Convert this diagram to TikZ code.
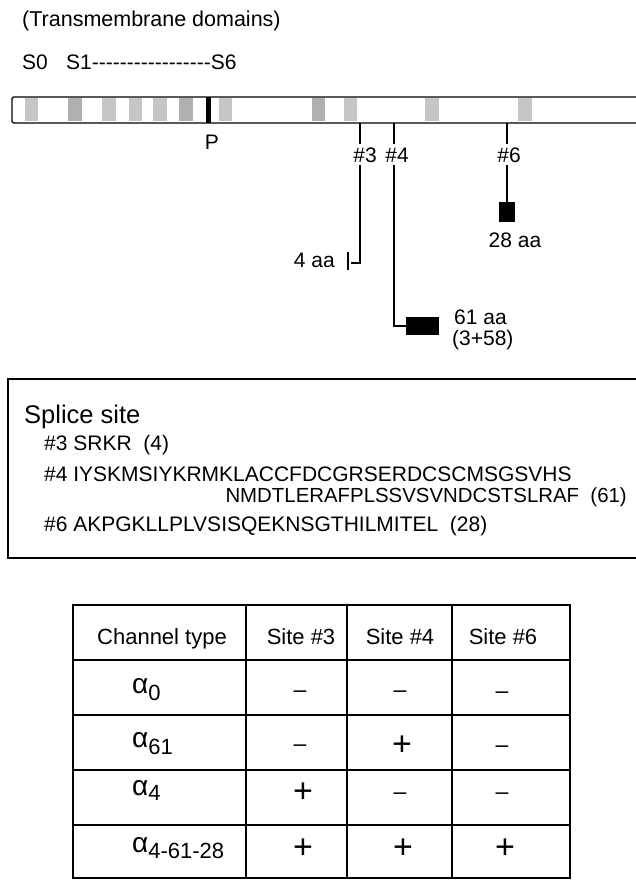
\documentclass[tikz,border=0pt]{standalone}
\usepackage{fontspec}
\setmainfont{Liberation Sans}
\newcommand\alsub[2][-7pt]{{\fontsize{28}{30}\selectfont α}\raisebox{#1}{#2}}
\begin{document}
\begin{tikzpicture}[x=1pt,y=-1pt,
  txt/.style={inner sep=0pt, font=\fontsize{21}{25}\selectfont},
  lab/.style={txt, anchor=base},
  seq/.style={txt, anchor=base west},
  tab/.style={inner sep=0pt, anchor=base, font=\fontsize{22}{26}\selectfont},
  stripe/.style={fill=gray!45, draw=none},
  dstripe/.style={fill=gray!62, draw=none},
  blk/.style={fill=black, draw=none, inner sep=0pt},
  conn/.style={line width=1.2pt},
  gridline/.style={line width=1.6pt},
  pl/.style={inner sep=0pt, anchor=base, font=\fontsize{34}{36}\selectfont},
  mi/.style={inner sep=0pt, anchor=base, font=\fontsize{23}{25}\selectfont},
  ]
\useasboundingbox (0,0) rectangle (635,880);

% ---------- header ----------
\node[seq, font=\fontsize{21.5}{25}\selectfont] (tm) at (22,27) {(Transmembrane domains)};
\node[seq] (s0) at (22,70) {S0};
\node[seq] (s16) at (66,70) {S1-{}-{}-{}-{}-{}-{}-{}-{}-{}-{}-{}-{}-{}-{}-{}-{}-{}S6};

% ---------- bar ----------
\foreach \a/\b in {25/38,102/116,129/142,153/167,219/232,344/357,425/439,518/532}
  \fill[stripe] (\a,98) rectangle (\b,121);
\foreach \a/\b in {68/82,179/193,312/325}
  \fill[dstripe] (\a,98) rectangle (\b,121);
\fill[black] (206,97) rectangle (210.5,123);
\draw[line width=1.2pt, rounded corners=1.5pt] (660,97) -- (12,97) -- (12,123) -- (660,123);
\node[lab] (P) at (212,149) {P};

% ---------- sites ----------
\coordinate (b3) at (360,123);
\coordinate (b4) at (394,123);
\coordinate (b6) at (507,123);
\node[lab] (n3) at (365,162) {\#3};
\node[lab] (n4) at (397,162) {\#4};
\node[lab] (n6) at (509,162) {\#6};

% site 3
\coordinate (h3) at (351,263);
\coordinate (t3a) at (348,252);
\coordinate (t3b) at (348,270);
\draw[conn] (b3) -- ([yshift=3pt]n3.north -| b3);
\draw[conn] ([yshift=-3pt]n3.south -| b3) -- (b3 |- h3) -- (h3);
\draw[conn] (t3a) -- (t3b);
\node[lab, anchor=base east] (aa4) at (335,267) {4 aa};

% site 4
\node[blk, minimum width=33pt, minimum height=18pt, anchor=west] (r4) at (406,326) {};
\draw[conn] (b4) -- ([yshift=3pt]n4.north -| b4);
\draw[conn] ([yshift=-3pt]n4.south -| b4) -- (b4 |- r4.west) -- (r4.west);
\node[seq] (aa61) at (454,324) {61 aa};
\node[seq] (aa61b) at (452,345) {(3+58)};

% site 6
\node[blk, minimum width=16pt, minimum height=20pt] (r6) at (507,212) {};
\draw[conn] (b6) -- ([yshift=3pt]n6.north -| b6);
\draw[conn] ([yshift=-3pt]n6.south -| b6) -- (r6.north);
\node[lab] (aa28) at (515,247) {28 aa};

% ---------- splice box ----------
\draw[line width=1.5pt] (660,379) -- (8,379) -- (8,558) -- (660,558);
\node[seq, font=\fontsize{25.5}{30}\selectfont] (st) at (24,423) {Splice site};
\node[seq] (q3) at (44,450) {\#3 SRKR\ \ (4)};
\node[seq] (q4) at (44,481) {\#4 IYSKMSIYKRMKLACCFDCGRSERDCSCMSGSVHS};
\node[seq, anchor=base east, font=\fontsize{20.4}{24}\selectfont] (q4b) at (627,502.5) {NMDTLERAFPLSSVSVNDCSTSLRAF\ \ (61)};
\node[seq] (q6) at (44,531) {\#6 AKPGKLLPLVSISQEKNSGTHILMITEL\ \ (28)};

% ---------- table ----------
\draw[gridline] (73,605) rectangle (570,878);
\foreach \y in {660,715,770,825} \draw[gridline] (73,\y) -- (570,\y);
\foreach \x in {246,347,452} \draw[gridline] (\x,605) -- (\x,878);

\node[tab] (hc) at (162,644) {Channel type};
\node[tab] (h3) at (301,644) {Site \#3};
\node[tab] (h4) at (400,644) {Site \#4};
\node[tab] (h6) at (503,644) {Site \#6};

\node[tab, anchor=base west] (r0) at (132,693) {\alsub{0}};
\node[tab, anchor=base west] (r61) at (132,747) {\alsub{61}};
\node[tab, anchor=base west] (r4l) at (132,795) {\alsub[-5pt]{4}};
\node[tab, anchor=base west] (r46128) at (132,852) {\alsub[-6pt]{4-61-28}};

% minus signs
\node[mi] (m03) at (300,697) {–};
\node[mi] (m04) at (400,697) {–};
\node[mi] (m06) at (502,698) {–};
\node[mi] (m13) at (300,751) {–};
\node[mi] (m16) at (502,752) {–};
\node[mi] (m24) at (400,799) {–};
\node[mi] (m26) at (502,799) {–};
% plus signs
\node[pl] (p14) at (402,755.5) {+};
\node[pl] (p23) at (303,802) {+};
\node[pl] (p33) at (303,858) {+};
\node[pl] (p34) at (403,858) {+};
\node[pl] (p36) at (505,858) {+};
\end{tikzpicture}
\end{document}
